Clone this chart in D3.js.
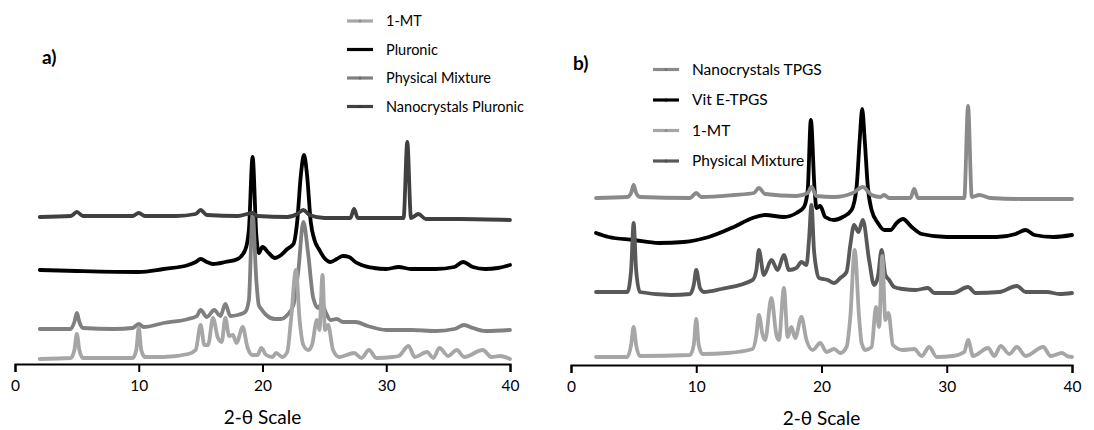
<!DOCTYPE html>
<html><head><meta charset="utf-8">
<script src="https://cdn.jsdelivr.net/npm/d3@7"></script>
<style>
body{margin:0;background:#fff;}
svg{display:block;font-family:Lato,"Open Sans",sans-serif;}
</style></head>
<body><svg id="c" width="1094" height="430"></svg>
<script>
// ---------- DATA (2θ in degrees, intensity in arbitrary offset units) ----------
const xTicks = [0, 10, 20, 30, 40];
const xTitle = "2-θ Scale";

// Panel a
const legendA = ["1-MT", "Pluronic", "Physical Mixture", "Nanocrystals Pluronic"];
const mtA = [[2,5],[4.5,6],[4.8,14],[5,30],[5.2,14],[5.5,6],[9.5,6],[9.8,14],[10,36],[10.2,14],[10.5,7],[12,7],[14,10],[14.6,14],[15,39],[15.3,19],[15.6,19],[16,46],[16.4,26],[16.7,22],[17,46],[17.3,28],[17.6,29],[17.9,21],[18.4,37],[18.8,16],[19.2,9],[19.6,9],[19.9,16],[20.3,9],[20.8,7],[21.1,11],[21.6,7],[22,12],[22.3,44],[22.7,94],[23,44],[23.3,19],[23.7,14],[24,19],[24.4,44],[24.6,34],[24.85,89],[25.05,34],[25.3,39],[25.7,14],[26.2,7],[27.4,11],[28,6],[28.6,14],[29.2,6],[30.5,7],[31,8],[31.8,18],[32.3,7],[33.3,12],[33.8,6],[34.3,16],[35,8],[35.7,14],[36.3,7],[37.8,14],[38.5,7],[39.2,8],[40,5]];
const pluronicA = [[2,94],[5,93],[10,92],[12,95],[14,99],[14.6,102],[15,105],[15.5,102],[16,100],[17,102],[18,105],[18.6,114],[18.9,134],[19.2,207],[19.5,129],[19.7,111],[20,117],[20.5,111],[21,106],[21.5,109],[22,115],[22.5,120],[22.8,142],[23.1,189],[23.35,209],[23.6,189],[23.9,142],[24.2,124],[24.6,114],[25,106],[25.5,102],[26,105],[26.5,108],[27,107],[27.5,102],[28,99],[29,96],[30,95],[31,97],[32,95],[34,95],[35.5,97],[36.2,102],[37,97],[38,95],[39,96],[40,99]];
const physMixA = [[2,35],[4.5,35],[4.8,42],[5,51],[5.2,42],[5.5,36],[8,35],[9.5,36],[10,40],[10.4,37],[12,41],[14,45],[14.7,48],[15,54],[15.5,47],[16.1,54],[16.6,48],[17,60],[17.4,48],[18,49],[18.6,52],[18.9,64],[19.2,151],[19.5,84],[19.7,59],[19.9,55],[20.3,49],[21,45],[21.5,45],[22,49],[22.5,59],[22.9,94],[23.3,142],[23.7,109],[24.1,66],[24.5,56],[24.8,61],[25.1,52],[25.5,44],[26,45],[26.5,42],[27.5,42],[28.5,38],[30,34],[32,34],[34,33],[35.5,35],[36.3,39],[37,36],[38,33],[40,34]];
const nanoPluronicA = [[2,147],[4.5,148],[5,152],[5.5,148],[9.5,148],[10,151],[10.5,148],[13,148],[14.6,150],[15,154],[15.5,149],[18,148],[19.2,151],[19.6,148],[22,147],[22.8,150],[23.3,154],[23.8,149],[25,146],[27.1,146],[27.4,155],[27.7,146],[31.4,146],[31.7,222],[32,146],[32.6,150],[33.2,145],[36,145],[40,144]];

// Panel b
const legendB = ["Nanocrystals TPGS", "Vit E-TPGS", "1-MT", "Physical Mixture"];
const nanoTpgsB = [[2,167],[4.5,168],[4.8,172],[5,180],[5.2,172],[5.5,168],[9.5,167],[10,172],[10.4,168],[13,170],[14.6,172],[15,177],[15.5,171],[18,169],[18.9,172],[19.2,178],[19.6,169],[21,168],[22.5,172],[23.3,178],[24,170],[24.7,168],[25,170],[25.4,167],[27.1,167],[27.4,176],[27.7,167],[31.4,167],[31.7,259],[32,168],[32.6,170],[33.5,167],[36,166],[40,166]];
const vitEB = [[2,132],[3,128],[5,125],[7,122],[9,123],[11,128],[13,138],[14.5,147],[15.5,150],[17,148],[18,152],[18.6,158],[18.9,175],[19.15,245],[19.45,175],[19.6,157],[19.9,159],[20.3,148],[21,145],[21.7,148],[22.4,155],[22.8,178],[23.05,225],[23.25,256],[23.45,225],[23.7,178],[24,155],[24.5,142],[25,135],[25.5,135],[26,142],[26.5,146],[27.2,138],[28,131],[30,128],[32,128],[34,128],[35.5,131],[36.3,135],[37,130],[38.5,128],[40,130]];
const mtB = [[2,8],[4.5,8],[4.8,20],[5,38],[5.2,20],[5.5,9],[9.5,10],[9.8,20],[10,46],[10.2,20],[10.5,11],[12.5,12],[14.5,16],[14.8,30],[15,50],[15.3,30],[15.5,25],[16,67],[16.4,30],[16.6,25],[17,77],[17.3,28],[17.6,38],[17.9,27],[18.4,48],[18.8,25],[19.3,15],[19.9,22],[20.4,13],[21,16],[21.5,12],[22,18],[22.3,48],[22.65,115],[23,48],[23.2,22],[23.5,15],[24,18],[24.35,58],[24.6,38],[24.85,109],[25.1,45],[25.35,52],[25.7,20],[26.5,15],[27.4,16],[28,9],[28.6,18],[29.2,8],[30.5,9],[31.4,13],[31.7,25],[32.1,9],[33.3,17],[33.8,9],[34.3,19],[35,11],[35.6,18],[36.3,9],[37.7,18],[38.3,9],[39.2,12],[39.6,9],[40,8]];
const physMixB = [[2,73],[4.5,73],[4.8,95],[5,142],[5.2,95],[5.5,73],[8,70],[9.5,71],[9.8,80],[10,95],[10.3,77],[10.6,73],[12,76],[14.5,85],[14.8,95],[15,115],[15.4,90],[16,105],[16.5,95],[17,110],[17.4,95],[18,97],[18.4,103],[18.8,100],[19,125],[19.2,160],[19.4,115],[19.6,95],[19.8,87],[20.5,85],[21,82],[21.5,87],[22,93],[22.3,120],[22.6,140],[22.95,133],[23.3,145],[23.8,105],[24.2,80],[24.5,88],[24.8,115],[25.1,90],[25.4,85],[25.8,78],[26.5,76],[27.5,75],[28.5,77],[29,72],[30.5,72],[31.7,78],[32.3,72],[34.2,73],[35.6,79],[36.3,73],[38,73],[39,71],[40,72]];

// ---------- DRAWING ----------
const svg = d3.select("#c");

function drawPanel(p) {
  const x = d3.scaleLinear().domain([0, 40]).range([p.x0, p.x1]);
  const y = d3.scaleLinear().domain([0, 340]).range([p.axisY, p.axisY - 340]);
  const g = svg.append("g");
  const line = d3.line().x(d => x(d[0])).y(d => y(d[1])).curve(d3.curveMonotoneX);

  p.series.forEach(s => {
    g.append("path").datum(s.data)
      .attr("fill", "none").attr("stroke", s.color)
      .attr("stroke-width", 3.8).attr("stroke-linejoin", "round").attr("stroke-linecap", "round")
      .attr("d", line);
  });

  const ax = g.append("g").attr("transform", `translate(0,${p.axisY})`)
    .call(d3.axisBottom(x).tickValues(xTicks).tickSize(8).tickPadding(8).tickFormat(d3.format("d")));
  ax.select(".domain").attr("stroke", "#000").attr("stroke-width", 2);
  ax.selectAll(".tick line").attr("stroke", "#000").attr("stroke-width", 2);
  ax.selectAll(".tick text").attr("font-size", 15.5).attr("fill", "#000").attr("font-family", "Lato, sans-serif");

  g.append("text").attr("x", (p.x0 + p.x1) / 2).attr("y", p.axisY + 60)
    .attr("text-anchor", "middle").attr("font-size", 19).attr("fill", "#000").text(xTitle);

  g.append("text").attr("x", p.labelX).attr("y", p.labelY)
    .attr("font-size", 19).attr("font-weight", "bold").attr("fill", "#000").text(p.label);

  p.legendOrder.forEach((s, i) => {
    const ly = p.legY + i * p.legStep;
    g.append("line").attr("x1", p.legX).attr("x2", p.legX + 26).attr("y1", ly).attr("y2", ly)
      .attr("stroke", s.color).attr("stroke-width", 3.2);
    g.append("circle").attr("cx", p.legX + 13).attr("cy", ly).attr("r", 1.6).attr("fill", d3.color(s.color).darker(0.4));
    g.append("text").attr("x", p.legX + 39).attr("y", ly + 5).attr("font-size", p.legFont)
      .attr("fill", "#000").text(s.name);
  });
}

const cMT = "#a6a6a6", cBlack = "#000000";

const sA = [
  {name: legendA[0], color: cMT, data: mtA},
  {name: legendA[1], color: cBlack, data: pluronicA},
  {name: legendA[2], color: "#808080", data: physMixA},
  {name: legendA[3], color: "#404040", data: nanoPluronicA}
];
drawPanel({
  x0: 15, x1: 510, axisY: 364, label: "a)", labelX: 42, labelY: 64,
  series: [sA[1], sA[2], sA[0], sA[3]], legendOrder: sA,
  legX: 347, legY: 21, legStep: 28.5, legFont: 14.5
});

const sB = [
  {name: legendB[0], color: "#8a8a8a", data: nanoTpgsB},
  {name: legendB[1], color: cBlack, data: vitEB},
  {name: legendB[2], color: cMT, data: mtB},
  {name: legendB[3], color: "#595959", data: physMixB}
];
drawPanel({
  x0: 571, x1: 1072, axisY: 365, label: "b)", labelX: 573, labelY: 70,
  series: [sB[1], sB[3], sB[2], sB[0]], legendOrder: sB,
  legX: 653, legY: 69.5, legStep: 30.5, legFont: 15.5
});
</script></body></html>
